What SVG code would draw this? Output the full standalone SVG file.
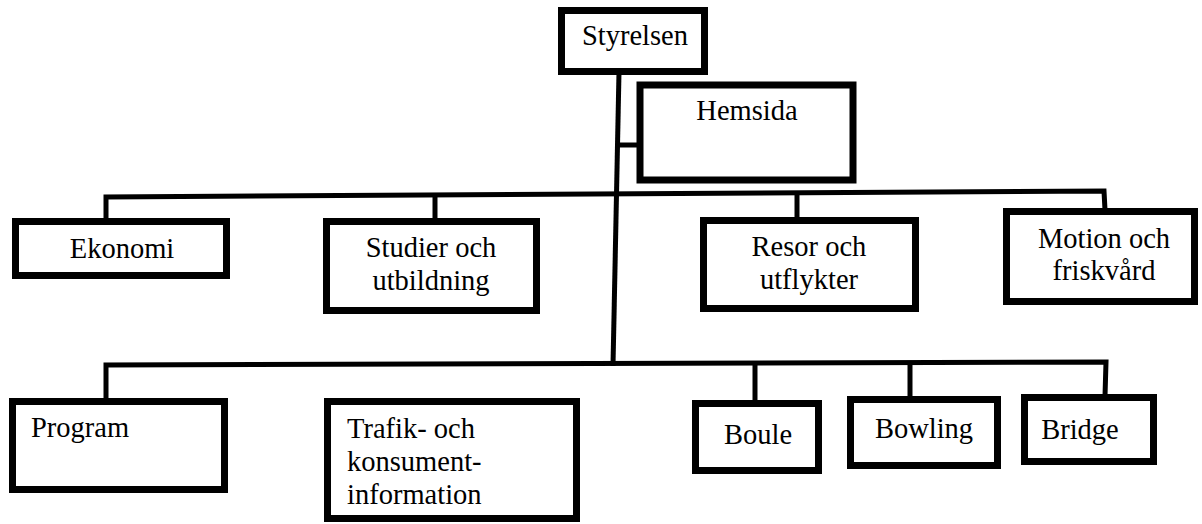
<svg xmlns="http://www.w3.org/2000/svg" width="1202" height="524" viewBox="0 0 1202 524">
<style>
.box{fill:#fff;stroke:#000;stroke-width:7}
.ln{fill:none;stroke:#000;stroke-width:5;stroke-linejoin:miter}
text{font-family:'Liberation Serif','Times New Roman',Tinos,'DejaVu Serif','Noto Serif',serif;font-size:28.5px;fill:#000}
.c{text-anchor:middle}
</style>
<rect width="1202" height="524" fill="#fff"/>
<g id="connectors">
<path class="ln" d="M619,72 L613,366"/>
<path class="ln" d="M617,145 L640,145"/>
<path class="ln" d="M106,218 L106,197 L1104,191 L1105,210"/>
<path class="ln" d="M435,195 L435,219"/>
<path class="ln" d="M797,193 L797,218"/>
<path class="ln" d="M106,399 L106,365 L1106,362 L1105,396"/>
<path class="ln" d="M755,364 L755,401"/>
<path class="ln" d="M910,363 L910,397"/>
</g>
<g id="styrelsen"><rect class="box" x="561.5" y="10.5" width="143" height="61"/><text class="c" x="635" y="45" font-family="Liberation Serif, serif">Styrelsen</text></g>
<g id="hemsida"><rect class="box" x="640" y="85" width="213" height="95"/><text class="c" x="747" y="120">Hemsida</text></g>
<g id="ekonomi"><rect class="box" x="15.5" y="221.5" width="211" height="54"/><text class="c" x="122" y="258">Ekonomi</text></g>
<g id="studier"><rect class="box" x="326.5" y="221.5" width="210" height="89"/><text class="c" x="431" y="257">Studier och</text><text class="c" x="431" y="290">utbildning</text></g>
<g id="resor"><rect class="box" x="703.5" y="220.5" width="212" height="88"/><text class="c" x="809" y="256">Resor och</text><text class="c" x="809" y="289">utflykter</text></g>
<g id="motion"><rect class="box" x="1006.5" y="211.5" width="188" height="90"/><text class="c" x="1104" y="248">Motion och</text><text class="c" x="1104" y="280">friskvård</text></g>
<g id="program"><rect class="box" x="12.5" y="401.5" width="212" height="88"/><text x="31" y="437">Program</text></g>
<g id="trafik"><rect class="box" x="327.5" y="401.5" width="249" height="117"/><text x="347" y="438">Trafik- och</text><text x="347" y="471">konsument-</text><text x="347" y="504">information</text></g>
<g id="boule"><rect class="box" x="695.5" y="403.5" width="123" height="67"/><text class="c" x="758" y="444">Boule</text></g>
<g id="bowling"><rect class="box" x="850.5" y="399.5" width="147" height="66"/><text class="c" x="924" y="438">Bowling</text></g>
<g id="bridge"><rect class="box" x="1024.5" y="397.5" width="129" height="64"/><text class="c" x="1080" y="439">Bridge</text></g>
</svg>
